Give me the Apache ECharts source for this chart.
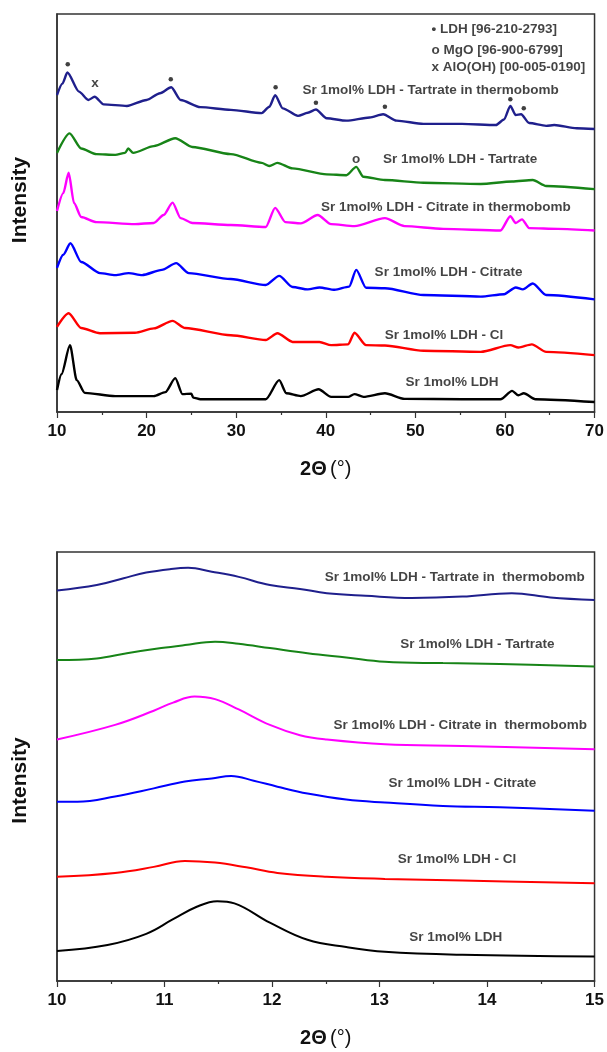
<!DOCTYPE html>
<html>
<head>
<meta charset="utf-8">
<script src="https://cdn.jsdelivr.net/npm/echarts@6/dist/echarts.min.js"></script>
<style>
  html, body { margin: 0; padding: 0; background: #fff; }
  #chart { width: 607px; height: 1052px; }
</style>
</head>
<body>
<div id="chart"></div>
<script>
// top panel, 2Θ 10-70
var topTartThermo = [[10,79.6],[10.6,82.5],[11.16,85.3],[12.45,80.5],[13.5,78.4],[14.2,79.2],[15.2,77.3],[17.8,76.9],[20,78.4],[21.5,80.1],[22.75,81.6],[23.8,78.4],[26,76.6],[29.4,75.9],[32.85,75.1],[33.7,76.7],[34.35,79.6],[35.2,76.3],[36.9,74.4],[38,75.2],[38.9,76.0],[40.1,73.8],[42.3,73.2],[44.9,74.0],[46.4,74.8],[47.9,73.2],[50.9,72.4],[55.2,72.4],[59,72.1],[59.9,73.5],[60.6,76.9],[61.2,74.6],[61.8,74.8],[62.7,72.6],[64.6,71.9],[65.5,72.1],[68,71.3],[70,71.1]];
var topTart = [[10,65.1],[11.4,70.0],[12.7,66.2],[14.4,64.8],[16.5,64.6],[17.6,65.1],[17.95,66.2],[18.5,65.1],[20.8,66.8],[23.2,68.8],[25.1,66.6],[29.4,64.8],[32.85,62.6],[33.7,61.8],[34.6,62.6],[36.3,61.2],[40.1,59.7],[42.3,59.5],[43.4,61.6],[44.2,59.1],[46.6,58.3],[50.9,57.6],[57.3,57.3],[60.8,57.9],[63.1,58.3],[64.6,56.8],[70,56.0]];
var topCitThermo = [[10,50.5],[10.7,55],[11.3,60.1],[11.9,52.5],[12.7,49.0],[14.4,47.7],[18.7,47.2],[20.8,47.5],[21.9,49.5],[22.9,52.6],[23.8,48.7],[25.1,47.5],[29.4,47.0],[33.3,46.5],[34.35,51.3],[35.5,47.7],[37.2,47.4],[39.1,49.5],[40.6,47.2],[43.2,46.7],[46.6,48.7],[48.8,46.7],[53.1,46.0],[59.5,45.6],[60.6,49.2],[61.2,47.5],[61.9,48.4],[62.7,46.2],[65.9,46.0],[70,45.6]];
var topCit = [[10,36.2],[10.7,39.5],[11.5,42.4],[12.7,37.7],[14.8,34.9],[16.5,34.4],[18,34.9],[19.5,34.4],[21.7,35.7],[23.3,37.4],[24.7,34.9],[29.4,33.4],[33.3,31.9],[34.8,34.2],[36.3,31.4],[38,30.8],[39.3,31.3],[41,30.7],[42.6,31.5],[43.4,35.7],[44.5,31.2],[46.6,31.1],[50.9,29.4],[57.3,29.0],[59.9,29.6],[61.2,31.3],[62,30.8],[63.1,32.3],[64.6,29.4],[70,28.3]];
var topCl = [[10,21.4],[11.3,24.8],[12.7,21.1],[14.8,19.8],[18.7,19.9],[20.8,21.0],[22.9,22.9],[24.3,21.1],[29.4,19.3],[33.3,18.1],[34.6,19.8],[36.3,17.6],[39.3,17.6],[40.6,16.8],[42.5,17.0],[43.2,19.9],[44.5,16.8],[46.6,16.7],[50.9,15.4],[57.3,15.1],[60.6,16.8],[61.5,16.2],[63,17.0],[64.6,15.1],[70,14.3]];
var topLdh = [[10,5.5],[10.5,9.5],[11.45,16.8],[12.2,8.0],[13.1,4.8],[16.5,4.0],[20.8,4.0],[22.1,5.0],[23.2,8.5],[24,4.5],[25,4.6],[25.2,3.6],[26,3.2],[33.3,3.2],[34.8,8.0],[35.6,4.7],[37.2,4.0],[39.2,5.7],[40.6,3.8],[42.5,3.8],[43.2,4.5],[44.2,3.8],[46.6,4.7],[48.8,3.3],[55.2,3.2],[59.5,3.2],[60.8,5.3],[61.5,4.2],[62.1,4.7],[63.4,3.2],[70,2.5]];

// bottom panel, 2Θ 10-15
var lowTartThermo = [[10,91.0],[10.37,92.3],[10.62,93.9],[10.83,95.2],[11.05,96.0],[11.22,96.3],[11.44,95.4],[11.69,94.2],[11.98,92.3],[12.26,91.4],[12.51,90.4],[12.87,89.8],[13.3,89.3],[13.77,89.6],[14.23,90.4],[14.59,89.4],[15,88.8]];
var lowTart = [[10,74.8],[10.37,75.2],[10.65,76.4],[10.97,77.6],[11.19,78.3],[11.47,79.1],[11.69,78.6],[11.98,77.6],[12.33,76.4],[12.69,75.4],[13.05,74.4],[13.59,74.1],[14.12,73.9],[15,73.3]];
var lowCitThermo = [[10,56.3],[10.54,59.7],[10.9,63.0],[11.08,64.9],[11.28,66.3],[11.47,65.7],[11.69,63.3],[11.98,59.7],[12.26,57.3],[12.51,56.3],[13.05,55.2],[13.77,54.8],[15,54.0]];
var lowCit = [[10,41.8],[10.19,41.8],[10.54,43.0],[10.9,44.9],[11.19,46.5],[11.44,47.2],[11.62,47.8],[11.83,46.7],[12.05,45.3],[12.33,43.7],[12.69,42.3],[13.05,41.6],[13.59,40.8],[14.12,40.5],[15,39.7]];
var lowCl = [[10,24.3],[10.54,25.2],[10.9,26.6],[11.19,28.0],[11.47,27.6],[11.76,26.5],[12.05,25.2],[12.51,24.3],[13.05,23.8],[13.77,23.4],[15,22.8]];
var lowLdh = [[10,7.0],[10.47,8.4],[10.83,11.0],[11.08,14.4],[11.3,17.3],[11.49,18.6],[11.65,18.1],[11.98,13.6],[12.33,9.6],[12.69,7.9],[13.05,6.8],[13.77,6.1],[15,5.7]];

var seriesColors = ['#1f1f8c', '#178417', '#ff00ff', '#0000ff', '#ff0000', '#000000'];

// curve names and where they are written
var topNames = ['Sr 1mol% LDH - Tartrate in thermobomb', 'Sr 1mol% LDH - Tartrate', 'Sr 1mol% LDH - Citrate in thermobomb', 'Sr 1mol% LDH - Citrate', 'Sr 1mol% LDH - Cl', 'Sr 1mol% LDH'];
var topNamePos = [[51.7,80.9],[55,63.6],[53.4,51.5],[53.7,35.2],[53.2,19.3],[54.1,7.5]];
var lowNames = ['Sr 1mol% LDH - Tartrate in  thermobomb', 'Sr 1mol% LDH - Tartrate', 'Sr 1mol% LDH - Citrate in  thermobomb', 'Sr 1mol% LDH - Citrate', 'Sr 1mol% LDH - Cl', 'Sr 1mol% LDH'];
var lowNamePos = [[13.7,94.2],[13.91,78.6],[13.75,59.5],[13.77,46.1],[13.72,28.4],[13.71,10.3]];

// phase marks on the top panel
var ldhDots = [[11.2,87.4],[22.7,83.6],[34.4,81.6],[38.9,77.7],[46.6,76.7],[60.6,78.6],[62.1,76.3]];
var mgoMarks = [[43.4,63.6]];
var alooMarks = [[14.25,82.6]];
var keyLines = ['\u2022 LDH [96-210-2793]', 'o MgO [96-900-6799]', 'x AlO(OH) [00-005-0190]'];
var keyPos = [[51.8,96.2],[51.8,91.0],[51.8,86.7]];

var FONT = '"Liberation Sans", Arial, sans-serif';
var AXC = '#333';
var TXT = '#141414';

var myChart = echarts.init(document.getElementById('chart'));

function xAxisOf(idx, min, max, step) {
	return {
		type: 'value', gridIndex: idx, min: min, max: max, interval: step,
		axisLine: { lineStyle: { color: AXC, width: 1.5 } },
		axisTick: { show: true, inside: false, length: 6, lineStyle: { color: AXC, width: 1.2 } },
		minorTick: { show: true, splitNumber: 2, length: 3, lineStyle: { color: AXC, width: 1.2 } },
		splitLine: { show: false },
		axisLabel: { color: '#111', fontFamily: FONT, fontWeight: 'bold', fontSize: 17, margin: 11 },
		name: '{b|2\u0398} {n|(\u00b0)}',
		nameLocation: 'middle', nameGap: 47,
		nameTextStyle: {
			rich: {
				b: { fontFamily: FONT, fontWeight: 'bold', fontSize: 20, color: '#111' },
				n: { fontFamily: FONT, fontSize: 20, color: '#111' }
			}
		}
	};
}

function yAxisOf(idx, pad) {
	return {
		type: 'value', gridIndex: idx, min: 0, max: 100,
		axisLine: { show: true, lineStyle: { color: AXC, width: 1.5 } },
		axisTick: { show: false }, axisLabel: { show: false }, splitLine: { show: false },
		name: 'Intensity', nameLocation: 'middle', nameGap: 26, nameRotate: 90,
		nameTextStyle: { fontFamily: FONT, fontWeight: 'bold', fontSize: 21, color: '#111', padding: pad }
	};
}

// sharp XRD peaks up top want monotone smoothing, the broad humps below do not
function curve(data, color, idx, w) {
	var s = {
		type: 'line', data: data, xAxisIndex: idx, yAxisIndex: idx,
		showSymbol: false, silent: true,
		lineStyle: { color: color, width: w }
	};
	if (idx === 0) {
		s.smooth = 0.25;
		s.smoothMonotone = 'x';
	} else {
		s.smooth = 0.4;
	}
	return s;
}

function textLayer(names, pos, idx, align) {
	var pts = [];
	for (var i = 0; i < names.length; i++) {
		pts.push({ name: names[i], value: pos[i] });
	}
	return {
		type: 'scatter', data: pts, xAxisIndex: idx, yAxisIndex: idx,
		symbolSize: 0, silent: true,
		label: {
			show: true, position: 'inside', formatter: '{b}', align: align || 'center',
			fontFamily: FONT, fontWeight: 'bold', fontSize: 13.5, color: TXT
		}
	};
}

var series = [];
var topData = [topTartThermo, topTart, topCitThermo, topCit, topCl, topLdh];
var lowData = [lowTartThermo, lowTart, lowCitThermo, lowCit, lowCl, lowLdh];
for (var i = 0; i < 6; i++) {
	series.push(curve(topData[i], seriesColors[i], 0, 2.4));
	series.push(curve(lowData[i], seriesColors[i], 1, 2));
}
series.push(textLayer(topNames, topNamePos, 0));
series.push(textLayer(lowNames, lowNamePos, 1));
series.push(textLayer(keyLines, keyPos, 0, 'left'));
series.push({
	type: 'scatter', data: ldhDots, xAxisIndex: 0, yAxisIndex: 0,
	symbol: 'circle', symbolSize: 4.5, silent: true,
	itemStyle: { color: '#111' }
});
series.push(textLayer(['o'], mgoMarks, 0));
series.push(textLayer(['x'], alooMarks, 0));

var option = {
	backgroundColor: '#fff',
	animation: false,
	grid: [
		{ left: 57, right: 9, top: 14, height: 398, show: true, borderColor: AXC, borderWidth: 1.5, backgroundColor: 'transparent' },
		{ left: 57, right: 9, top: 552, height: 429, show: true, borderColor: AXC, borderWidth: 1.5, backgroundColor: 'transparent' }
	],
	xAxis: [xAxisOf(0, 10, 70, 10), xAxisOf(1, 10, 15, 1)],
	yAxis: [yAxisOf(0, [0, 0, 0, 26]), yAxisOf(1, [0, 28, 0, 0])],
	series: series
};

myChart.setOption(option);
</script>
</body>
</html>
